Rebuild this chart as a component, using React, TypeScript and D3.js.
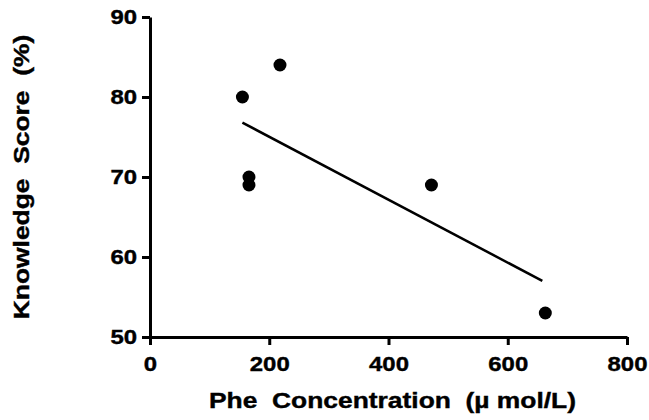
import { useRef, useEffect } from "react";
import * as d3 from "d3";

// Phe concentration (umol/L) vs knowledge score (%)
const pheValues = [155, 218, 166, 166, 472, 663];
const scoreValues = [80, 84, 70, 69, 69, 53];
const xTicks = [0, 200, 400, 600, 800];
const yTicks = [50, 60, 70, 80, 90];

const W = 649;
const H = 420;
const margin = { top: 17, right: 22, bottom: 83, left: 150 };
// text in the reference is a little wider than tall
const stretch = 1.2;
const tickStretch = 1.14;

const App = () => {
  const svgRef = useRef<SVGSVGElement>(null);

  useEffect(() => {
    if (!svgRef.current) return;
    const svg = d3.select(svgRef.current);
    svg.selectAll("*").remove();

    const xScale = d3
      .scaleLinear()
      .domain([0, 800])
      .range([margin.left, W - margin.right]);
    const yScale = d3
      .scaleLinear()
      .domain([50, 90])
      .range([H - margin.bottom, margin.top]);

    const font = "'Liberation Sans', Arial, sans-serif";

    const xAxis = d3
      .axisBottom(xScale)
      .tickValues(xTicks)
      .tickSize(8)
      .tickSizeOuter(0)
      .tickPadding(11);
    const xg = svg
      .append("g")
      .attr("transform", `translate(0,${H - margin.bottom})`)
      .call(xAxis);

    const yAxis = d3
      .axisLeft(yScale)
      .tickValues(yTicks)
      .tickSize(8)
      .tickSizeOuter(0)
      .tickPadding(5);
    const yg = svg
      .append("g")
      .attr("transform", `translate(${margin.left},0)`)
      .call(yAxis);

    [xg, yg].forEach((g) => {
      g.select(".domain").attr("stroke", "#000").attr("stroke-width", 3);
      g.selectAll(".tick line").attr("stroke", "#000").attr("stroke-width", 3);
      g.selectAll(".tick text")
        .attr("fill", "#000")
        .attr("stroke", "#000")
        .attr("stroke-width", 0.4)
        .attr("transform", `scale(${tickStretch},1)`)
        .style("font-family", font)
        .style("font-size", "21px")
        .style("font-weight", "bold");
    });
    yg.selectAll(".tick text").attr("x", -13 / tickStretch);

    // linear regression line over the data range
    const mx = d3.mean(pheValues)!;
    const my = d3.mean(scoreValues)!;
    const sxy = d3.sum(pheValues, (v, i) => (v - mx) * (scoreValues[i] - my));
    const sxx = d3.sum(pheValues, (v) => (v - mx) * (v - mx));
    const slope = sxy / sxx;
    const intercept = my - slope * mx;
    const [x0, x1] = d3.extent(pheValues) as [number, number];
    const fit: [number, number][] = [
      [x0, intercept + slope * x0],
      [x1 - 5, intercept + slope * (x1 - 5)],
    ];
    const line = d3
      .line<[number, number]>()
      .x((d) => xScale(d[0]))
      .y((d) => yScale(d[1]));
    svg
      .append("path")
      .datum(fit)
      .attr("d", line)
      .attr("fill", "none")
      .attr("stroke", "#000")
      .attr("stroke-width", 2.5);

    svg
      .append("g")
      .selectAll("circle")
      .data(pheValues)
      .join("circle")
      .attr("cx", (d) => xScale(d))
      .attr("cy", (d, i) => yScale(scoreValues[i]))
      .attr("r", 6.5)
      .attr("fill", "#000");

    svg
      .append("text")
      .attr(
        "transform",
        `translate(${(margin.left + W - margin.right) / 2 + 4},408) scale(${stretch},1)`
      )
      .attr("text-anchor", "middle")
      .attr("stroke", "#000")
      .attr("stroke-width", 0.4)
      .style("font-family", font)
      .style("font-size", "22px")
      .style("font-weight", "bold")
      .style("white-space", "pre")
      .text("Phe  Concentration  (\u00b5 mol/L)");

    svg
      .append("text")
      .attr(
        "transform",
        `translate(29,${(margin.top + H - margin.bottom) / 2}) rotate(-90) scale(${stretch},1)`
      )
      .attr("text-anchor", "middle")
      .attr("stroke", "#000")
      .attr("stroke-width", 0.4)
      .style("font-family", font)
      .style("font-size", "22px")
      .style("font-weight", "bold")
      .style("white-space", "pre")
      .text("Knowledge  Score  (%)");
  }, []);

  return (
    <svg
      ref={svgRef}
      width={W}
      height={H}
      style={{ position: "absolute", left: 0, top: 0, background: "#fff" }}
    ></svg>
  );
};

export default App;
